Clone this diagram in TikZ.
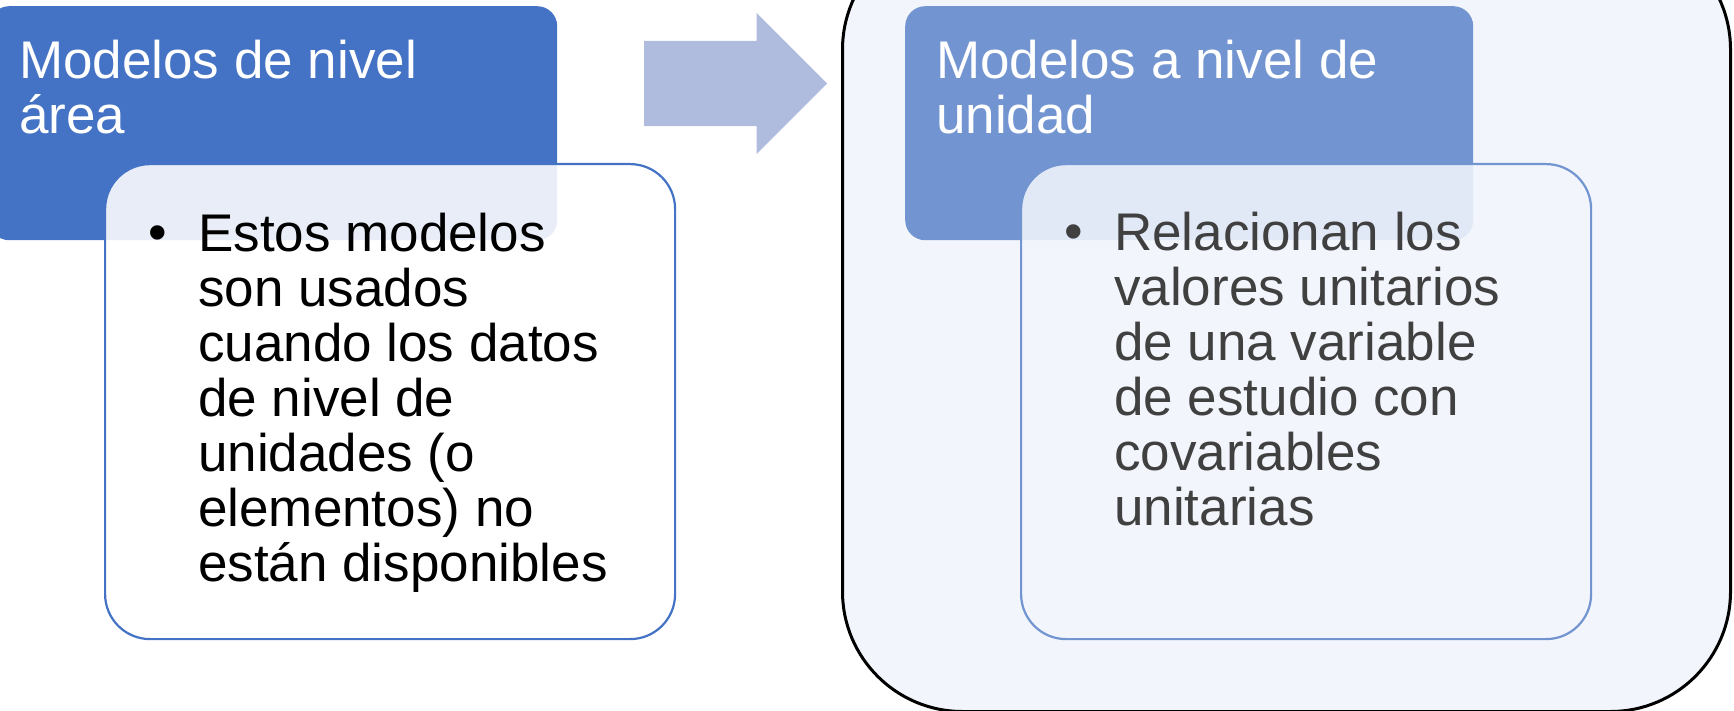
\documentclass[tikz,border=0pt]{standalone}
\usepackage{fontspec}
\setmainfont{Liberation Sans}
\usepackage{xcolor}
\usepackage{tikz}
\usetikzlibrary{shapes.arrows}
\definecolor{areablue}{RGB}{68,114,196}
\definecolor{unitblue}{RGB}{114,149,210}
\definecolor{unitback}{RGB}{242,245,251}
\definecolor{shiftblue}{RGB}{176,188,222}
\definecolor{unittext}{RGB}{64,64,64}

\begin{document}
\begin{tikzpicture}[x=1pt,y=-1pt,
	headbox/.style={rounded corners=20pt, inner sep=0pt, anchor=north west, minimum width=568pt, minimum height=234pt},
	bodybox/.style={rounded corners=45pt, inner sep=0pt, anchor=north west, line width=2.2pt, minimum width=570pt, minimum height=475pt},
	bigtext/.style={font={\fontsize{53}{55}\selectfont}, inner sep=0pt, anchor=base west, align=left}]
			\useasboundingbox (0,0) rectangle (1734,711);
			\clip (0,0) rectangle (1734,711);
			
			% Bloque izquierdo: nivel área
			\node[headbox, fill=areablue] (areaHead) at (-11,6) {};
			\node[bodybox, draw=areablue, fill=white, fill opacity=0.88] (areaBody) at (104,163) {};
			\node[bigtext, text=white] (areaTitle) at ([xshift=30pt,yshift=-128pt]areaHead.north west) {Modelos de nivel\\área};
			\node[bigtext] (areaDot) at ([xshift=44pt,yshift=-88pt]areaBody.north west) {•};
			\node[bigtext] (areaText) at ([xshift=94pt,yshift=-418pt]areaBody.north west) {Estos modelos\\son usados\\cuando los datos\\de nivel de\\unidades (o\\elementos) no\\están disponibles};
			
			% Flecha
			\node[single arrow, fill=shiftblue, inner xsep=0pt, inner ysep=42.5pt, anchor=west, minimum height=183pt, single arrow head extend=28pt, single arrow tip angle=90] (shift) at (644,83.5) {};
			
			% Bloque derecho: nivel unidad
			\node[draw=black, line width=3pt, fill=unitback, rounded corners=120pt, inner sep=0pt, anchor=north west, minimum width=888pt, minimum height=782pt] (unitFrame) at (841,-72) {};
			\node[headbox, fill=unitblue] (unitHead) at (905,6) {};
			\node[bodybox, draw=unitblue, fill=unitback, fill opacity=0.88] (unitBody) at (1020,163) {};
			\node[bigtext, text=white] (unitTitle) at ([xshift=31pt,yshift=-128pt]unitHead.north west) {Modelos a nivel de\\unidad};
			\node[bigtext, text=unittext] (unitDot) at ([xshift=44pt,yshift=-87pt]unitBody.north west) {•};
			\node[bigtext, text=unittext] (unitText) at ([xshift=94pt,yshift=-362pt]unitBody.north west) {Relacionan los\\valores unitarios\\de una variable\\de estudio con\\covariables\\unitarias};
		\end{tikzpicture}
\end{document}
